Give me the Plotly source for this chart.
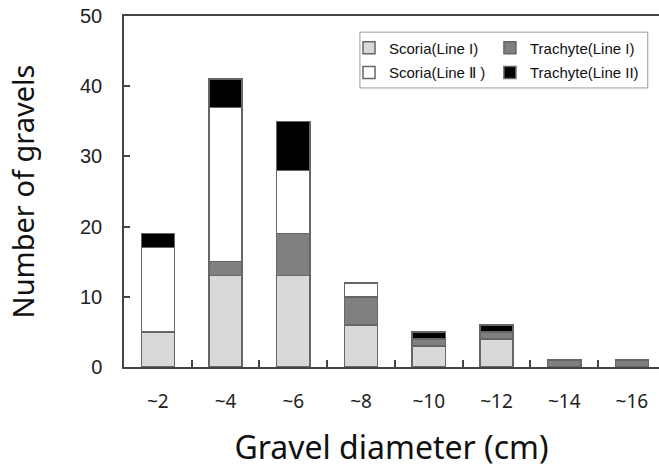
import plotly.graph_objects as go

categories = ["~2", "~4", "~6", "~8", "~10", "~12", "~14", "~16"]
scoria_1 = [5, 13, 13, 6, 3, 4, 0, 0]
trachyte_1 = [0, 2, 6, 4, 1, 1, 1, 1]
scoria_2 = [12, 22, 9, 2, 0, 0, 0, 0]
trachyte_2 = [2, 4, 7, 0, 1, 1, 0, 0]

series = [
    ("Scoria(Line I)", scoria_1, "#d9d9d9", "legend"),
    ("Trachyte(Line I)", trachyte_1, "#808080", "legend2"),
    ("Scoria(Line \u2161 )", scoria_2, "#ffffff", "legend3"),
    ("Trachyte(Line II)", trachyte_2, "#000000", "legend4"),
]

fig = go.Figure()
for name, vals, col, leg in series:
    fig.add_trace(go.Bar(
        x=categories, y=vals, name=name, legend=leg, showlegend=True,
        marker=dict(color=col, line=dict(color="#666666", width=1.5)),
        width=0.49,
    ))

leg_font = dict(size=15, family="Liberation Sans, Arial, sans-serif", color="#111")
def leg(x, y):
    return dict(x=x, y=y, xanchor="left", yanchor="middle", borderwidth=0,
                bgcolor="rgba(0,0,0,0)", font=leg_font, itemwidth=30, visible=True)

fig.update_layout(
    barmode="stack",
    showlegend=True,
    width=659, height=468,
    margin=dict(l=124, r=0, t=16, b=101, autoexpand=False),
    paper_bgcolor="white", plot_bgcolor="white",
    font=dict(family="Liberation Sans, Arial, sans-serif", color="#222"),
    legend=leg(0.4206, 0.909),
    legend2=leg(0.684, 0.909),
    legend3=leg(0.4206, 0.838),
    legend4=leg(0.684, 0.838),
    shapes=[dict(type="rect", xref="paper", yref="paper",
                 x0=0.441, x1=0.979, y0=0.795, y1=0.954,
                 line=dict(color="#999999", width=1), fillcolor="rgba(0,0,0,0)")],
    xaxis=dict(
        type="category", range=[-0.5, 7.4],
        showline=True, linecolor="#444", linewidth=1.5, mirror=True,
        ticks="inside", tickson="boundaries", ticklen=7, tickcolor="#444", tickwidth=1.5,
        tickfont=dict(size=19, family="Noto Sans, sans-serif", color="#222"),
        ticklabelstandoff=16,
        title=dict(text="Gravel diameter (cm)", font=dict(size=32, family="Noto Sans, sans-serif", color="#111"), standoff=24),
        showgrid=False,
    ),
    yaxis=dict(
        range=[0, 50], tickvals=[0, 10, 20, 30, 40, 50],
        showline=True, linecolor="#444", linewidth=1.5,
        ticks="inside", ticklen=6, tickcolor="#444", tickwidth=1.5,
        tickfont=dict(size=20, color="#222"), ticklabelstandoff=16,
        title=dict(text="Number of gravels", font=dict(size=29, family="Noto Sans, sans-serif", color="#111"), standoff=37),
        showgrid=False, zeroline=False,
    ),
)

fig.write_html("out.html")
